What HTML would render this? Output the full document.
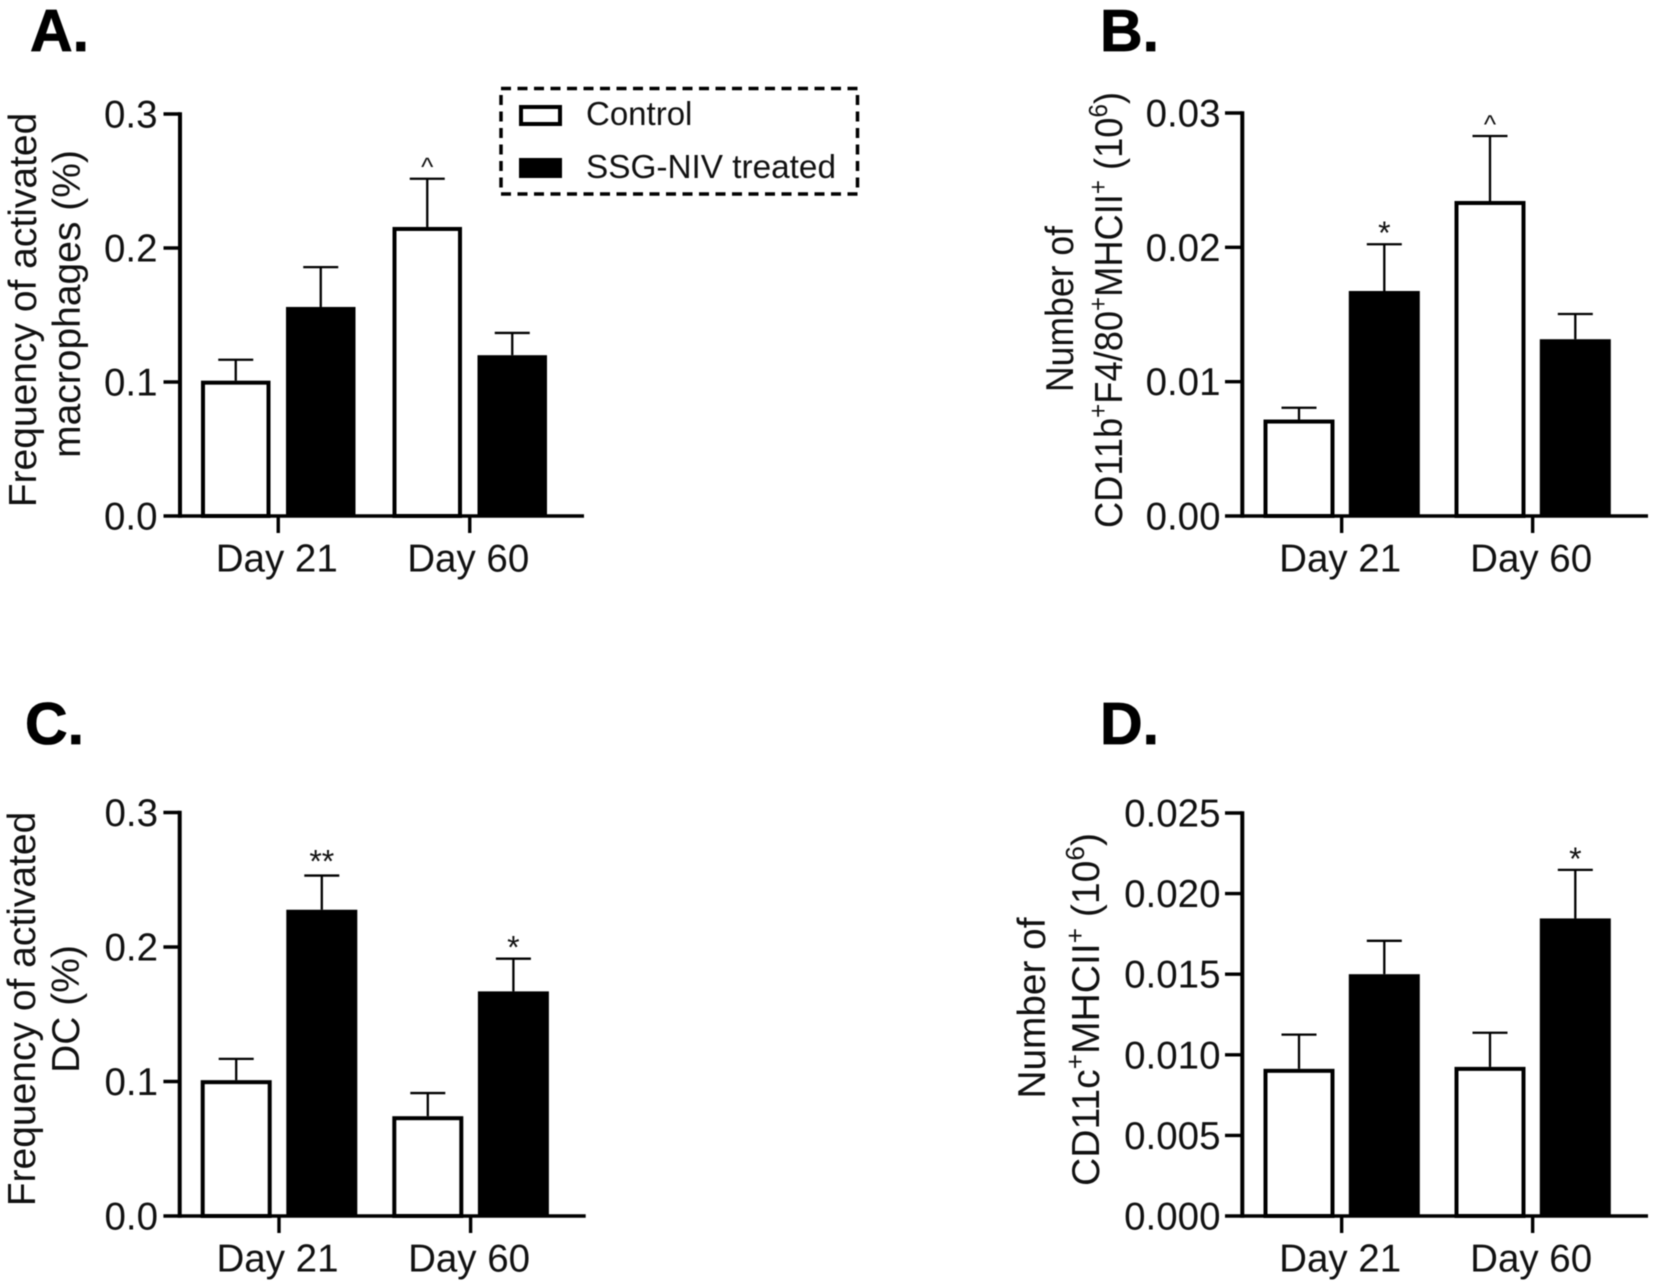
<!DOCTYPE html>
<html lang="en">
<head>
<meta charset="utf-8">
<title>Activated macrophages and dendritic cells</title>
<style>
html,body{margin:0;padding:0;background:#fff;}
#figure{display:block;width:1654px;height:1286px;filter:blur(0.45px);}
text{font-family:"Liberation Sans",sans-serif;fill:#111;}
.letter{font-size:59px;font-weight:bold;fill:#000;stroke:#000;stroke-width:.8px;}
.title{font-size:39px;}
.tick{font-size:38.5px;}
.legend-text{font-size:33px;}
.note{fill:#111;}
</style>
</head>
<body>
<svg id="figure" xmlns="http://www.w3.org/2000/svg" width="1654" height="1286" viewBox="0 0 1654 1286">
  <rect width="1654" height="1286" fill="#fff"/>

  <text class="letter" x="30" y="51">A.</text>
  <text class="letter" x="1100" y="51">B.</text>
  <text class="letter" x="25" y="744">C.</text>
  <text class="letter" x="1100" y="744">D.</text>

  <text class="title" text-anchor="middle" transform="translate(36 310) rotate(-90)">Frequency of activated</text>
  <text class="title" text-anchor="middle" transform="translate(80 304) rotate(-90)">macrophages (%)</text>

  <text class="title" text-anchor="middle" textLength="166" lengthAdjust="spacingAndGlyphs" transform="translate(1073 309) rotate(-90)">Number of</text>
  <text class="title" text-anchor="middle" textLength="436" lengthAdjust="spacingAndGlyphs" transform="translate(1122 310) rotate(-90)">CD11b<tspan font-size="26" dy="-15">+</tspan><tspan dy="15">F4/80</tspan><tspan font-size="26" dy="-15">+</tspan><tspan dy="15">MHCII</tspan><tspan font-size="26" dy="-15">+</tspan><tspan dy="15"> (10</tspan><tspan font-size="26" dy="-15">6</tspan><tspan dy="15">)</tspan></text>

  <text class="title" text-anchor="middle" transform="translate(35 1009) rotate(-90)">Frequency of activated</text>
  <text class="title" text-anchor="middle" transform="translate(79 1009) rotate(-90)">DC (%)</text>

  <text class="title" text-anchor="middle" textLength="181" lengthAdjust="spacingAndGlyphs" transform="translate(1045 1008) rotate(-90)">Number of</text>
  <text class="title" text-anchor="middle" textLength="353" lengthAdjust="spacingAndGlyphs" transform="translate(1099 1009.5) rotate(-90)">CD11c<tspan font-size="26" dy="-15">+</tspan><tspan dy="15">MHCII</tspan><tspan font-size="26" dy="-15">+</tspan><tspan dy="15"> (10</tspan><tspan font-size="26" dy="-15">6</tspan><tspan dy="15">)</tspan></text>

  <g>
    <rect x="501" y="88.5" width="356.5" height="105.5" fill="none" stroke="#000" stroke-width="3.5" stroke-dasharray="10 6.5"/>
    <rect x="521" y="107" width="39" height="17" fill="#fff" stroke="#000" stroke-width="4"/>
    <text class="legend-text" x="586" y="125">Control</text>
    <rect x="519" y="158" width="43" height="20" fill="#000"/>
    <text class="legend-text" x="586" y="178" textLength="250" lengthAdjust="spacingAndGlyphs">SSG-NIV treated</text>
  </g>

  <g id="charts"></g>
</svg>

<script>
// Shared categories
const categories = ['Day 21', 'Day 60'];

// Panel A: frequency of activated macrophages (%)
const ticksA = ['0.0', '0.1', '0.2', '0.3'];
const controlA = [0.101, 0.2157];
const treatedA = [0.156, 0.120];
const controlErrA = [0.1166, 0.2517];
const treatedErrA = [0.1857, 0.1366];
const controlNotesA = ['', '^'];
const treatedNotesA = ['', ''];

// Panel B: number of CD11b+F4/80+MHCII+ cells
const ticksB = ['0.00', '0.01', '0.02', '0.03'];
const controlB = [0.00718, 0.02345];
const treatedB = [0.01675, 0.01316];
const controlErrB = [0.00806, 0.02829];
const treatedErrB = [0.02023, 0.01504];
const controlNotesB = ['', '^'];
const treatedNotesB = ['*', ''];

// Panel C: frequency of activated DC (%)
const ticksC = ['0.0', '0.1', '0.2', '0.3'];
const controlC = [0.101, 0.0742];
const treatedC = [0.2277, 0.167];
const controlErrC = [0.1168, 0.0914];
const treatedErrC = [0.2531, 0.1913];
const controlNotesC = ['', ''];
const treatedNotesC = ['**', '*'];

// Panel D: number of CD11c+MHCII+ cells
const ticksD = ['0.000', '0.005', '0.010', '0.015', '0.020', '0.025'];
const controlD = [0.00913, 0.00925];
const treatedD = [0.015, 0.01846];
const controlErrD = [0.01125, 0.01137];
const treatedErrD = [0.01707, 0.02147];
const controlNotesD = ['', ''];
const treatedNotesD = ['', '*'];

const SVG_NS = 'http://www.w3.org/2000/svg';
const root = document.getElementById('charts');

function make(parent, tag, attrs, text) {
  const node = document.createElementNS(SVG_NS, tag);
  for (const key in attrs) node.setAttribute(key, attrs[key]);
  if (text !== undefined) node.textContent = text;
  parent.appendChild(node);
  return node;
}

function drawLine(parent, x1, y1, x2, y2, width) {
  return make(parent, 'line', {x1: x1, y1: y1, x2: x2, y2: y2, stroke: '#000', 'stroke-width': width});
}

function noteOffset(note) {
  if (note === '^') return -3;
  return note.length > 1 ? -3 : 0;
}

function drawPanel(id, layout, ticks, control, treated, controlErr, treatedErr, controlNotes, treatedNotes) {
  const panel = make(root, 'g', {});
  
  

  const tickValues = ticks.map(Number);
  const maxValue = Math.max.apply(null, tickValues);
  const yScale = function (v) { return layout.bottom - (v / maxValue) * (layout.bottom - layout.top); };
  const barX = function (group, series) { return layout.firstBar + group * layout.groupStep + series * layout.pairStep; };
  const groupCenter = function (group) { return barX(group, 0) + (layout.pairStep + layout.barWidth) / 2; };

  // bars and error bars
  [control, treated].forEach(function (values, series) {
    const errors = series === 0 ? controlErr : treatedErr;
    const notes = series === 0 ? controlNotes : treatedNotes;
    const seriesName = series === 0 ? 'control' : 'treated';
    values.forEach(function (value, group) {
      const x = barX(group, series);
      const yTop = yScale(value);
      const center = x + layout.barWidth / 2;
      const yErr = yScale(errors[group]);

      const stem = drawLine(panel, center, yTop, center, yErr, 2.3);
      
      

      const cap = drawLine(panel, center - 17.5, yErr, center + 17.5, yErr, 2.3);
      
      

      const inset = series === 0 ? 2 : 0;
      const bar = make(panel, 'rect', {
        x: x + inset,
        y: yTop + inset,
        width: layout.barWidth - 2 * inset,
        height: layout.bottom - yTop - inset,
        fill: series === 0 ? '#fff' : '#000',
        stroke: series === 0 ? '#000' : 'none',
        'stroke-width': series === 0 ? 4 : 0
      });
      
      

      const note = notes[group];
      if (note) {
        const mark = make(panel, 'text', {
          class: 'note',
          x: center,
          y: yErr + noteOffset(note),
          'text-anchor': 'middle',
          'font-size': note === '^' ? 26 : 32
        }, note);
        
        
      }
    });
  });

  // y axis
  const yAxis = drawLine(panel, layout.axisX, layout.top - 1.75, layout.axisX, layout.bottom + 1.75, 4);
  
  

  ticks.forEach(function (label, i) {
    const y = yScale(tickValues[i]);
    const mark = drawLine(panel, layout.tickLeft, y, layout.axisX, y, 3.4);
    
    

    const tickText = make(panel, 'text', {class: 'tick', x: layout.labelX, y: y + 13.5, 'text-anchor': 'end'}, label);
    
    
  });

  // x axis
  const xAxis = drawLine(panel, layout.axisX, layout.bottom, layout.xEnd, layout.bottom, 3.6);
  
  

  categories.forEach(function (label, group) {
    const cx = groupCenter(group);
    const mark = drawLine(panel, cx, layout.bottom, cx, layout.bottom + 17, 3.4);
    
    

    const catText = make(panel, 'text', {class: 'tick', x: cx - 1.5, y: layout.bottom + 55.5, 'text-anchor': 'middle'}, label);
    
    
  });
}

drawPanel('a',
  {axisX: 180, top: 114, bottom: 516, xEnd: 584, tickLeft: 163.5, labelX: 157.5, firstBar: 201, barWidth: 69.5, pairStep: 85, groupStep: 191.5},
  ticksA, controlA, treatedA, controlErrA, treatedErrA, controlNotesA, treatedNotesA);

drawPanel('b',
  {axisX: 1242.3, top: 113, bottom: 516, xEnd: 1648, tickLeft: 1225, labelX: 1220.5, firstBar: 1263.5, barWidth: 71, pairStep: 85.3, groupStep: 191},
  ticksB, controlB, treatedB, controlErrB, treatedErrB, controlNotesB, treatedNotesB);

drawPanel('c',
  {axisX: 179.7, top: 812.5, bottom: 1216, xEnd: 585.7, tickLeft: 163.4, labelX: 158, firstBar: 200.7, barWidth: 71, pairStep: 85.6, groupStep: 191.6},
  ticksC, controlC, treatedC, controlErrC, treatedErrC, controlNotesC, treatedNotesC);

drawPanel('d',
  {axisX: 1242.3, top: 813, bottom: 1216, xEnd: 1648, tickLeft: 1225, labelX: 1220.5, firstBar: 1263.5, barWidth: 71, pairStep: 85.3, groupStep: 191},
  ticksD, controlD, treatedD, controlErrD, treatedErrD, controlNotesD, treatedNotesD);
</script>
</body>
</html>
